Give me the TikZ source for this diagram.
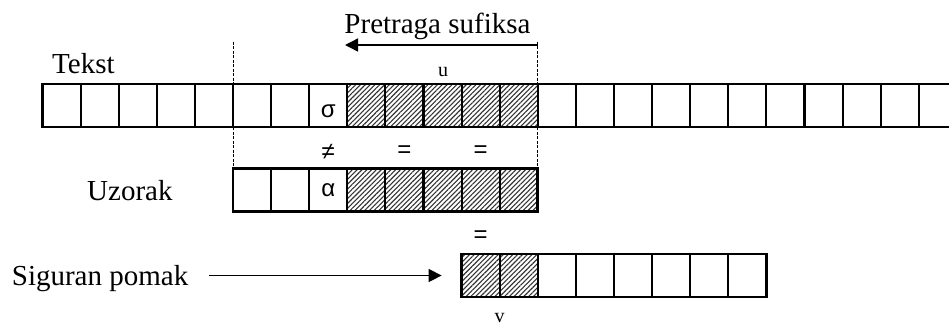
\documentclass[tikz,border=0pt]{standalone}
\usepackage{fontspec}
\setmainfont{Liberation Serif}
\newfontfamily\symfnt{Liberation Sans}
\usetikzlibrary{arrows.meta,patterns.meta}
\begin{document}
\begin{tikzpicture}[x=1pt,y=-1pt,
  rowbox/.style={rectangle, draw=none, inner sep=0pt, outer sep=0pt, minimum height=43pt, anchor=north west},
  edge/.style={line width=2.8pt, line join=miter},
  divider/.style={line width=2.1pt},
  hatch/.style={pattern={Lines[angle=45,distance=3.4pt,line width=1.1pt]}, pattern color=black!80},
  guide/.style={line width=0.9pt, dash pattern=on 3pt off 1.5pt},
  lbl/.style={font=\fontsize{29}{31}\selectfont, inner sep=0pt},
  small/.style={font=\fontsize{20}{22}\selectfont, inner sep=0pt},
  sym/.style={font=\symfnt\fontsize{24}{26}\selectfont, inner sep=0pt},
  arr/.style={line width=1.4pt, -{Triangle[length=13pt,width=13pt]}}
]
\useasboundingbox (0,0) rectangle (949,325);
\def\cw{38.1}
% rows
\node[rowbox, minimum width=906.5pt] (txt) at (42.5,84) {};
\node[rowbox, minimum width=304.8pt] (pat) at (233,168.3) {};
\node[rowbox, minimum width=304.8pt] (shift) at (461.6,254) {};
% hatching
\fill[hatch] ([xshift=3*\cw pt]pat.north west) rectangle (pat.south east);
\fill[hatch] (txt.north west) ++(8*\cw,0) rectangle ++(5*\cw,43);
\fill[hatch] (shift.north west) rectangle ([xshift=2*\cw pt]shift.south west);
% dividers
\foreach \k in {1,...,23}
  \draw[divider] ([xshift=\k*\cw pt]txt.north west) -- ([xshift=\k*\cw pt]txt.south west);
\foreach \k in {1,...,7}{
  \draw[divider] ([xshift=\k*\cw pt]pat.north west) -- ([xshift=\k*\cw pt]pat.south west);
  \draw[divider] ([xshift=\k*\cw pt]shift.north west) -- ([xshift=\k*\cw pt]shift.south west);
}
% frames
\draw[edge] (txt.north east) -- (txt.north west) -- (txt.south west) -- (txt.south east);
\draw[edge] (pat.north west) rectangle (pat.south east);
\draw[edge] (shift.north west) rectangle (shift.south east);
% dashed guides
\coordinate (gl) at (233,41.7);
\coordinate (gr) at (537.8,41.7);
\draw[guide] (gl) -- (gl |- pat.north);
\draw[guide] (gr) -- (gr |- pat.north);
% labels
\node[lbl, anchor=base] (pret) at (437.5,33.5) {Pretraga sufiksa};
\node[lbl, anchor=base west] (tekst) at (52,73.3) {Tekst};
\node[small, anchor=base] (u) at (443,76.5) {u};
\node[lbl, anchor=base west] (uz) at (87,200) {Uzorak};
\node[lbl, anchor=base west] (sig) at (11.7,285) {Siguran pomak};
\node[small, anchor=base] (v) at (499.7,322.5) {v};
\node[sym, anchor=base] (sigma) at (328.3,117.5) {σ};
\node[sym, anchor=base] (alpha) at (328.3,196.5) {α};
\node[sym] (ne) at (328.3,151.7) {≠};
\node[sym] (eq1) at (404.5,151.7) {=};
\node[sym] (eq2) at (480.7,151.7) {=};
\node[sym] (eq3) at (480.7,236.7) {=};
% arrows
\coordinate (pstart) at (537.8,45);
\coordinate (pend) at (345,45);
\draw[arr] (pstart) -- (pend);
\draw[arr, shorten <=21pt, shorten >=20pt] (sig.east |- shift.west) -- (shift.west);
\end{tikzpicture}
\end{document}
